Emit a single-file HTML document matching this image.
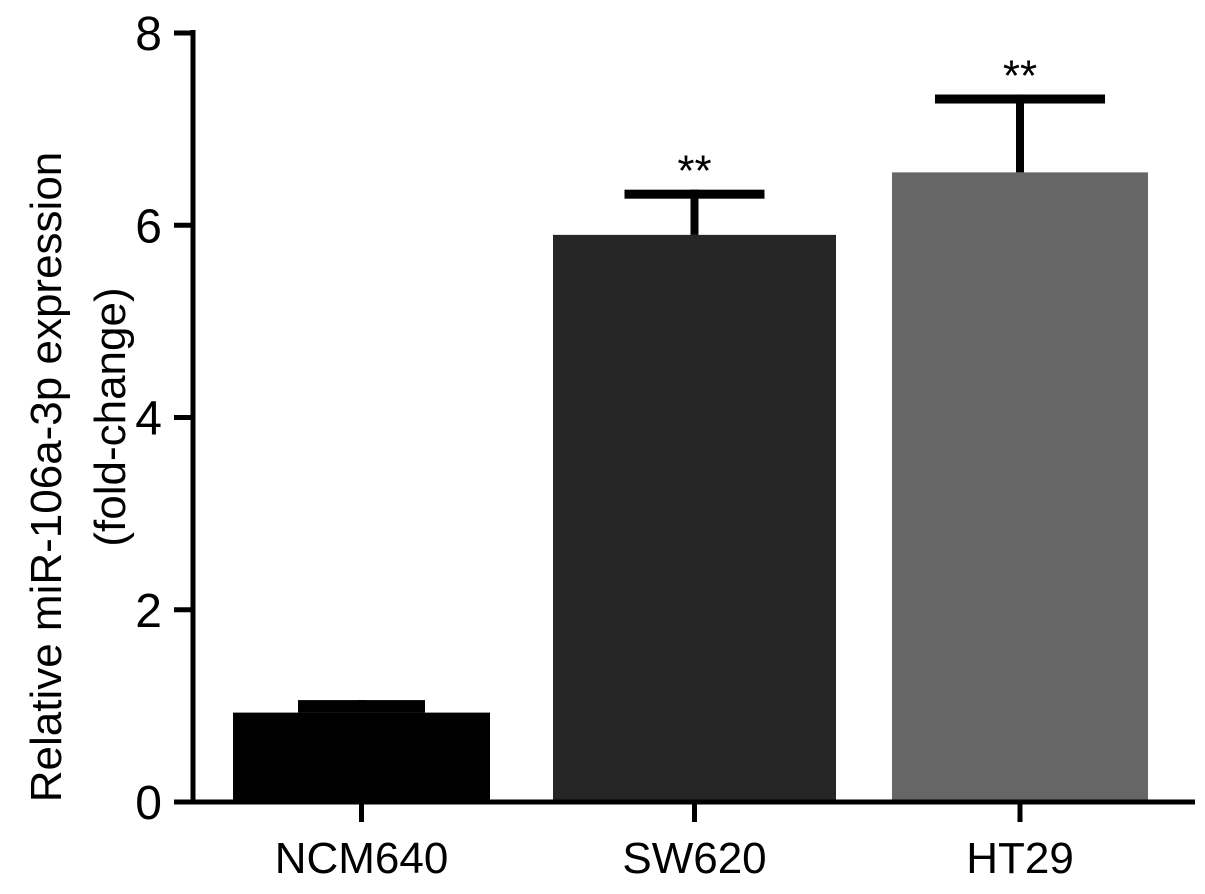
<!DOCTYPE html>
<html><head><meta charset="utf-8">
<style>
html,body{margin:0;padding:0;background:#fff;}
svg{display:block;font-family:"Liberation Sans",Arial,sans-serif;}
</style></head>
<body>
<svg id="chart" width="1205" height="894" viewBox="0 0 1205 894"></svg>
<script>
const categories = ["NCM640", "SW620", "HT29"];
const means = [0.93, 5.9, 6.55];
const errors = [0.13, 0.47, 0.81];
const significance = ["", "**", "**"];
const yTicks = [0, 2, 4, 6, 8];

const NS = "http://www.w3.org/2000/svg";
const svg = document.getElementById("chart");
const x0 = 193, yBase = 802, yTop = 33, yMax = 8;
const yScale = v => yBase - (yBase - yTop) * v / yMax;
const barLeft = [233, 553, 892], barW = [257, 283, 256];
const colors = ["#000000", "#262626", "#666666"];
const capW = [127, 140, 170];

function mk(tag, attrs, parent) {
  const e = document.createElementNS(NS, tag);
  for (const k in attrs) e.setAttribute(k, attrs[k]);
  (parent || svg).appendChild(e);
  return e;
}

categories.forEach((c, i) => {
  const cx = barLeft[i] + barW[i] / 2;
  const top = yScale(means[i]);
  const bar = mk("rect", {x: barLeft[i], y: top, width: barW[i], height: yBase - top, fill: colors[i]});
  
  
  const et = yScale(means[i] + errors[i]);
  const ev = mk("line", {x1: cx, x2: cx, y1: top, y2: et, stroke: "#000", "stroke-width": 8});
  
  
  const gap = top - et;
  const capH = gap < 15 ? gap : 9;
  const cap = mk("rect", {x: cx - capW[i] / 2, y: et, width: capW[i], height: capH, fill: "#000"});
  
  
  if (significance[i]) {
    const s = mk("text", {x: cx, y: et - 4, "text-anchor": "middle", "font-size": 44});
    s.textContent = significance[i];
    
    
  }
  const tk = mk("line", {x1: cx, x2: cx, y1: yBase, y2: yBase + 20, stroke: "#000", "stroke-width": 5});
  
  
  const lbl = mk("text", {x: cx, y: 873, "text-anchor": "middle", "font-size": 44});
  lbl.textContent = c;
  
  
});

yTicks.forEach(t => {
  const y = yScale(t);
  const tk = mk("line", {x1: 174, x2: x0, y1: y, y2: y, stroke: "#000", "stroke-width": 5});
  
  
  const l = mk("text", {x: 162, y: y + 17, "text-anchor": "end", "font-size": 48});
  l.textContent = t;
  
  
});

const ya = mk("line", {x1: x0, x2: x0, y1: yTop - 3, y2: yBase + 2.5, stroke: "#000", "stroke-width": 5});


const xa = mk("line", {x1: x0 - 2.5, x2: 1195, y1: yBase, y2: yBase, stroke: "#000", "stroke-width": 5});



const t1 = mk("text", {x: 0, y: 0, "text-anchor": "middle", "font-size": 44, transform: "translate(61,477) rotate(-90)"});
t1.textContent = "Relative miR-106a-3p expression";


const t2 = mk("text", {x: 0, y: 0, "text-anchor": "middle", "font-size": 44, transform: "translate(125,417) rotate(-90)"});
t2.textContent = "(fold-change)";


</script>
</body></html>
